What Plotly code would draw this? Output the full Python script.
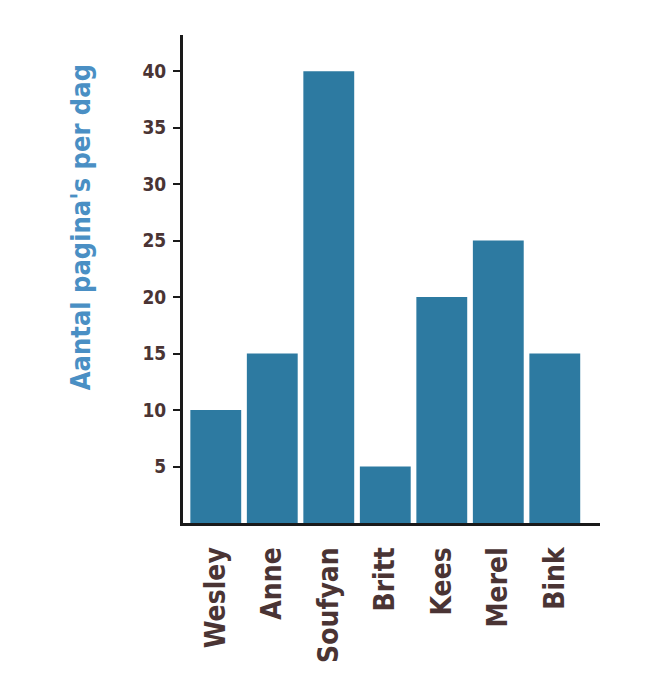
import plotly.graph_objects as go

names = ["Wesley", "Anne", "Soufyan", "Britt", "Kees", "Merel", "Bink"]
pages = [10, 15, 40, 5, 20, 25, 15]
y_ticks = [5, 10, 15, 20, 25, 30, 35, 40]
y_title = "Aantal pagina's per dag"

FONT = "DejaVu Sans Condensed"
TXT = "#4a3434"

fig = go.Figure(go.Bar(x=names, y=pages, marker=dict(color="#2d7aa1", line=dict(width=0))))

fig.update_layout(
    width=650, height=694,
    margin=dict(l=175, r=58, t=27, b=179),
    paper_bgcolor="white", plot_bgcolor="white",
    bargap=0.1, showlegend=False,
    font=dict(family=FONT, color=TXT),
)
fig.update_xaxes(
    range=[-0.58, 6.8], showline=True, linecolor="#1a1a1a", linewidth=3,
    ticks="", tickangle=-90, ticklabelstandoff=10,
    tickfont=dict(family=FONT, size=28, color=TXT, weight="bold"),
    showgrid=False, zeroline=False,
)
fig.update_yaxes(
    range=[0, 43.2], showline=True, linecolor="#1a1a1a", linewidth=3,
    tickvals=y_ticks, ticks="outside", ticklen=7, tickwidth=2, tickcolor="#1a1a1a",
    ticklabelstandoff=3,
    tickfont=dict(family=FONT, size=19, color=TXT, weight="bold"),
    showgrid=False, zeroline=False,
)
fig.add_annotation(
    text=y_title, textangle=-90, xref="paper", yref="paper",
    x=-0.246, y=0.607, xanchor="center", yanchor="middle", showarrow=False,
    font=dict(family=FONT, size=27, color="#4a8fc4", weight="bold"),
)
fig.write_html("out.html")
